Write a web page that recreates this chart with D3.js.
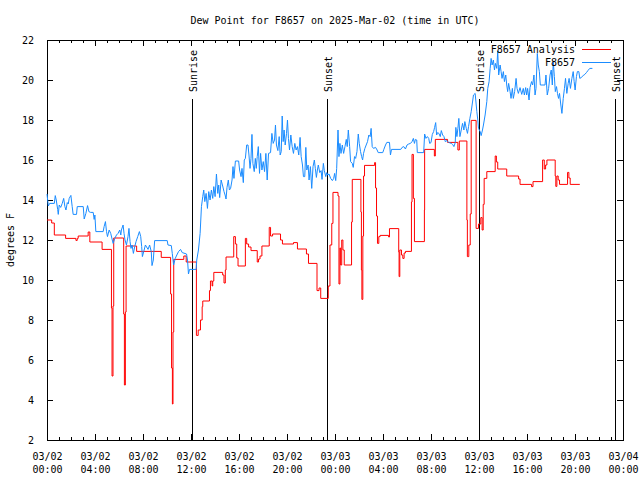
<!DOCTYPE html>
<html><head><meta charset="utf-8">
<script src="https://cdn.jsdelivr.net/npm/d3@7/dist/d3.min.js"></script>
<style>
body{margin:0;background:#fff}
text{font-family:"DejaVu Sans Mono","Liberation Mono",monospace;font-size:10px;fill:#000}
</style>
</head><body><svg id="c" width="640" height="480"></svg>
<script>
const chartTitle = "Dew Point for F8657 on 2025-Mar-02 (time in UTC)";
const yAxisLabel = "degrees F";
const seriesNames = ["F8657 Analysis", "F8657"];
const seriesColors = ["#ff0000", "#1a8cff"];
const yTickValues = [2,4,6,8,10,12,14,16,18,20,22];
const sunLabels = ["Sunrise","Sunset","Sunrise","Sunset"];
const sunHours = [12.1, 23.36, 36.03, 47.36];

// hours since 2025-03-02 00:00 UTC
const redHours = [
0,0.39,0.61,1.55,2.41,2.52,2.6,3.43,3.57,4.59,
5.37,5.42,5.5,5.56,6.39,6.45,6.53,6.59,7.47,9.52,
10.3,10.38,10.45,10.5,10.56,11.4,11.6,12.45,12.6,12.79,
12.93,12.98,13.54,13.62,13.76,13.81,13.9,14.64,14.75,14.86,
14.92,15.56,15.7,15.81,15.92,16.53,16.64,16.8,17.0,17.52,
17.63,17.75,17.91,18.52,18.63,18.8,19.46,19.62,20.54,20.87,
21.62,21.79,22.5,22.67,22.81,23.44,23.58,23.73,23.83,24.25,
24.33,24.41,24.47,24.56,24.66,24.77,25.38,25.44,26.16,26.2,
26.24,26.32,26.38,26.46,27.3,27.38,27.46,27.54,27.65,27.76,
28.47,28.54,29.31,29.34,29.4,29.54,29.65,29.76,29.87,30.37,
30.42,30.53,30.62,31.45,31.47,32.28,32.36,33.38,34.24,34.36,
34.99,35.03,35.15,35.27,35.35,35.76,35.96,36.15,36.26,36.35,
36.43,36.65,37.35,37.45,37.56,38.31,39.3,39.42,40.38,40.5,
41.3,41.44,41.55,41.66,42.35,42.4,42.49,42.6,42.71,43.38,
43.49,43.6,44.4];
const redValues = [
13.0,12.85,12.25,12.08,11.98,12.08,12.2,12.4,11.9,11.53,
8.6,5.2,8.7,12.1,8.3,4.75,8.4,11.7,11.43,11.13,
9.3,5.6,3.8,7.4,11.03,11.2,10.9,7.23,7.5,8.0,
8.67,8.95,9.47,9.95,9.7,9.95,10.38,10.25,9.85,10.5,
11.15,12.17,11.8,11.1,10.7,12.08,11.8,11.65,11.47,10.9,
11.05,11.2,11.7,12.63,12.2,12.3,12.0,11.8,11.87,11.55,
11.3,10.83,9.47,9.6,9.08,9.7,11.75,12.83,14.38,14.2,
9.8,11.6,10.75,12.0,11.5,10.75,12.9,15.03,13.4,10.5,
9.03,12.2,15.2,15.73,15.87,14.6,13.2,11.83,12.17,12.23,
12.15,12.57,11.4,10.17,11.5,11.25,11.08,11.35,11.43,13.9,
16.28,14.08,11.92,13.5,16.53,16.2,17.03,16.88,16.5,16.95,
13.0,11.17,11.75,13.3,17.98,12.58,12.8,13.12,12.5,13.78,
15.08,15.42,16.2,15.9,15.55,15.2,15.05,14.78,14.67,14.92,
16.0,15.55,15.75,16.0,15.2,14.68,15.2,15.0,14.78,15.38,
15.1,14.78,14.78];

const blueHours = [
0,0.11,0.22,0.61,0.69,0.77,0.89,0.94,1.02,1.14,
1.27,1.39,1.49,1.58,1.69,1.77,1.85,1.99,2.1,2.18,
2.46,2.52,3.02,3.1,3.24,3.38,3.49,3.63,3.85,3.93,
3.99,4.07,4.68,4.76,4.87,4.96,5.04,5.18,5.31,5.51,
5.65,5.79,5.92,6.06,6.15,6.2,6.34,6.42,6.5,6.62,
6.75,6.83,6.92,7.0,7.09,7.2,7.31,7.42,7.56,7.7,
7.81,7.89,7.95,8.06,8.2,8.42,8.55,8.69,8.75,8.86,
8.97,10.02,10.08,10.36,10.44,10.55,10.69,10.82,10.96,11.13,
11.27,11.63,11.71,11.79,11.88,12.43,12.48,12.62,12.76,12.87,
12.98,13.06,13.15,13.26,13.37,13.48,13.59,13.7,13.81,13.9,
14.01,14.12,14.23,14.31,14.39,14.51,14.64,14.75,14.84,14.92,
15.0,15.11,15.2,15.3,15.42,15.5,15.58,15.7,15.97,16.05,
16.17,16.25,16.36,16.44,16.53,16.64,16.75,16.83,16.92,17.0,
17.08,17.16,17.27,17.36,17.44,17.52,17.61,17.71,17.8,17.91,
18.02,18.13,18.24,18.35,18.46,18.63,18.74,18.85,18.96,19.04,
19.12,19.24,19.35,19.43,19.52,19.6,19.68,19.76,19.85,19.96,
20.04,20.12,20.21,20.32,20.43,20.54,20.65,20.76,20.87,20.98,
21.09,21.18,21.29,21.37,21.48,21.57,21.65,21.76,21.84,21.95,
22.06,22.17,22.28,22.36,22.45,22.53,22.61,22.73,22.84,22.92,
23.03,23.11,23.23,23.31,23.39,23.5,23.64,23.78,23.89,23.97,
24.06,24.14,24.25,24.33,24.41,24.5,24.61,24.72,24.83,24.94,
25.02,25.11,25.22,25.3,25.44,25.52,25.63,25.72,25.83,25.94,
26.02,26.13,26.22,26.3,26.38,26.49,26.6,26.71,26.82,26.93,
27.01,27.1,27.21,27.38,27.51,27.6,27.98,28.07,28.21,28.32,
28.54,28.62,28.71,29.48,29.59,29.73,29.87,30.0,30.14,30.29,
30.42,30.53,30.62,30.7,30.81,30.86,31.39,31.47,31.58,31.7,
31.81,31.89,32.0,32.11,32.22,32.3,32.39,32.47,32.55,32.66,
32.77,32.86,32.97,33.08,33.19,33.33,33.47,33.69,33.8,33.91,
34.02,34.07,34.16,34.24,34.32,34.41,34.52,34.63,34.74,34.82,
34.94,35.04,35.13,35.24,35.35,35.46,35.54,35.68,35.82,35.9,
35.96,36.1,36.18,36.29,36.37,36.51,36.65,36.73,36.84,36.93,
37.01,37.09,37.2,37.29,37.37,37.48,37.56,37.64,37.76,37.84,
37.92,38.03,38.12,38.23,38.31,38.39,38.47,38.59,38.67,38.78,
38.86,38.97,39.09,39.17,39.28,39.42,39.56,39.69,39.78,39.89,
39.97,40.05,40.17,40.25,40.38,40.47,40.58,40.67,40.75,40.86,
40.94,41.03,41.11,41.5,41.58,41.69,41.8,41.92,42.02,42.11,
42.19,42.28,42.36,42.46,42.54,42.63,42.71,42.82,42.91,43.02,
43.12,43.21,43.32,43.43,43.51,43.62,43.74,43.85,43.93,44.01,
44.12,44.2,44.32,44.4,44.51,44.68,44.82,44.95,45.09,45.23,45.45];
const blueValues = [
14.3,13.7,13.83,13.83,14.22,14.0,13.53,13.28,13.75,13.63,
13.83,14.08,13.67,13.5,13.87,13.8,14.08,14.23,13.67,13.28,
13.28,13.67,13.67,13.05,13.33,13.72,13.42,13.38,13.38,13.03,
13.25,12.42,12.42,12.67,12.92,12.42,12.17,12.5,12.33,11.83,
12.08,12.25,12.33,12.5,12.25,12.5,12.75,12.33,12.0,11.75,
12.17,12.58,11.92,11.58,11.75,11.33,11.67,11.92,12.17,12.42,
12.17,11.67,11.17,11.42,11.75,11.53,11.75,11.42,10.72,11.0,
11.97,11.97,11.75,11.72,11.33,10.75,11.08,11.25,11.42,11.53,
11.37,11.3,11.0,10.3,10.53,10.53,11.0,11.5,12.33,13.67,
14.17,14.5,13.92,14.33,13.58,14.42,14.0,14.5,14.08,14.67,
14.17,15.3,14.33,14.75,14.12,15.0,14.7,14.42,14.25,14.05,
14.63,15.0,14.5,14.58,15.0,15.67,15.08,15.95,15.95,15.5,
15.17,15.58,14.87,16.0,16.08,16.75,16.75,16.25,15.58,16.08,
17.28,15.83,15.42,16.08,15.58,16.17,16.67,15.33,16.33,15.5,
15.92,15.42,16.33,15.0,16.33,16.37,17.33,16.83,17.0,17.75,
16.75,16.47,17.17,16.25,16.42,18.2,16.92,17.5,16.75,17.33,
18.0,17.08,16.5,17.25,16.67,16.33,16.83,16.5,16.67,16.25,
17.13,16.17,15.75,15.17,15.17,16.63,15.5,15.75,15.0,15.67,
14.58,15.67,16.0,15.58,15.13,15.5,15.75,15.37,15.47,15.03,
15.83,15.47,15.17,15.37,15.25,15.3,15.08,14.97,15.08,15.33,
14.97,15.58,17.5,16.17,16.83,16.33,16.75,16.33,16.67,17.03,
16.67,17.5,16.67,15.92,15.83,15.63,16.17,16.08,16.42,17.3,
16.83,16.42,16.17,16.0,16.33,16.58,16.75,16.92,17.25,17.17,
17.58,16.67,16.58,16.63,16.5,16.37,16.37,16.53,16.75,16.88,
16.88,16.25,16.53,16.53,16.63,16.67,16.55,16.75,16.8,16.83,
16.92,17.08,16.83,17.03,17.0,16.37,16.37,17.3,17.08,17.17,
17.08,16.83,16.87,17.28,17.42,17.63,17.87,17.25,17.37,17.33,
17.17,17.47,17.25,17.17,16.92,16.97,16.88,16.83,16.78,16.67,
16.87,17.63,17.17,17.58,18.08,17.17,17.5,17.83,17.5,17.92,
17.58,17.33,17.67,18.08,18.42,18.9,19.25,19.33,18.42,18.0,
17.58,17.42,17.22,17.5,17.75,18.25,18.92,19.58,19.92,20.58,
21.08,20.75,21.0,20.5,20.83,20.58,21.45,20.25,20.75,20.42,
20.08,20.42,19.92,20.25,19.75,19.42,19.83,19.42,19.08,19.58,
19.08,19.42,20.08,19.58,19.33,19.62,19.28,19.58,19.25,19.62,
19.25,19.58,19.0,19.62,19.92,19.75,20.25,19.25,19.58,21.33,
20.75,20.42,19.75,19.75,20.25,19.25,19.58,20.25,20.5,19.75,
20.92,20.17,19.42,19.67,19.33,19.08,19.33,18.75,18.33,19.08,
19.58,20.08,19.33,19.83,20.08,19.58,20.08,20.42,19.92,19.5,
20.17,20.42,20.42,20.08,20.12,20.22,20.28,20.37,20.48,20.58,20.58];

const t0 = Date.UTC(2025, 2, 2, 0, 0);
const toDate = h => new Date(t0 + h * 3600e3);

const L = 47, R = 623, T = 40, B = 440;
const svg = d3.select("#c");
const x = d3.scaleUtc().domain([toDate(0), toDate(48)]).range([L, R]);
const y = d3.scaleLinear().domain([2, 22]).range([B, T]);

// title
svg.append("text").attr("x", (L + R) / 2).attr("y", 23.5)
  .attr("text-anchor", "middle").text(chartTitle);
// y label
svg.append("text").attr("transform", `translate(14,240) rotate(-90)`)
  .attr("text-anchor", "middle").text(yAxisLabel);

// axes ticks
const g = svg.append("g").attr("shape-rendering", "crispEdges");
const xMajor = d3.utcHour.every(4), xMinor = d3.utcHour.every(1);
function tickStyle(sel) { sel.select(".domain").remove(); sel.selectAll("line").attr("stroke", "#000"); }

g.append("g").attr("transform", `translate(0,${B})`)
  .call(d3.axisBottom(x).ticks(xMinor).tickSize(-3).tickFormat(""))
  .call(tickStyle);
g.append("g").attr("transform", `translate(0,${T})`)
  .call(d3.axisTop(x).ticks(xMinor).tickSize(-3).tickFormat(""))
  .call(tickStyle);
g.append("g").attr("transform", `translate(0,${T})`)
  .call(d3.axisTop(x).ticks(xMajor).tickSize(-6).tickFormat(""))
  .call(tickStyle);
const xa = g.append("g").attr("transform", `translate(0,${B})`)
  .call(d3.axisBottom(x).ticks(xMajor).tickSize(-6).tickFormat(""))
  .call(tickStyle);
xa.selectAll(".tick").each(function(d) {
  const t = d3.select(this).append("text").attr("text-anchor", "middle").attr("fill", "#000")
    .style("font-size", "10px");
  t.append("tspan").attr("x", 0).attr("y", 20).text(d3.utcFormat("%m/%d")(d));
  t.append("tspan").attr("x", 0).attr("y", 33).text(d3.utcFormat("%H:%M")(d));
});
const ya = g.append("g").attr("transform", `translate(${L},0)`)
  .call(d3.axisLeft(y).tickValues(yTickValues).tickSize(-6).tickPadding(13).tickFormat(d3.format("d")))
  .call(tickStyle);
ya.selectAll("text").style("font-size", "10px").attr("fill", "#000");
g.append("g").attr("transform", `translate(${R},0)`)
  .call(d3.axisRight(y).tickValues(yTickValues).tickSize(-6).tickFormat(""))
  .call(tickStyle);

// border
g.append("rect").attr("x", L + 0.5).attr("y", T + 0.5).attr("width", R - L).attr("height", B - T)
  .attr("fill", "none").attr("stroke", "#000");

// sunrise / sunset
const sg = svg.append("g");
sunHours.forEach((h, i) => {
  const sx = Math.round(x(toDate(h))) + 0.5;
  sg.append("line").attr("x1", sx).attr("x2", sx).attr("y1", 99).attr("y2", B)
    .attr("stroke", "#000").attr("shape-rendering", "crispEdges");
  sg.append("text").attr("transform", `translate(${sx + 4},92) rotate(-90)`)
    .attr("text-anchor", "start").text(sunLabels[i]);
});

// series
const redData = redHours.map((h, i) => ({ t: toDate(h), v: redValues[i] }));
const blueData = blueHours.map((h, i) => ({ t: toDate(h), v: blueValues[i] }));
const lineStep = d3.line().x(d => x(d.t)).y(d => y(d.v)).curve(d3.curveStepAfter);
const lineLin = d3.line().x(d => x(d.t)).y(d => y(d.v));
svg.append("path").datum(redData).attr("d", lineStep)
  .attr("fill", "none").attr("stroke", seriesColors[0]).attr("stroke-width", 1);
svg.append("path").datum(blueData).attr("d", lineLin)
  .attr("fill", "none").attr("stroke", seriesColors[1]).attr("stroke-width", 1);

// legend
const lg = svg.append("g");
[49.5, 62.5].forEach((ly, i) => {
  lg.append("text").attr("x", 575).attr("y", ly + 3.5).attr("text-anchor", "end").text(seriesNames[i]);
  lg.append("line").attr("x1", 582).attr("x2", 611).attr("y1", ly).attr("y2", ly)
    .attr("stroke", seriesColors[i]).attr("shape-rendering", "crispEdges");
});
</script>
</body></html>
